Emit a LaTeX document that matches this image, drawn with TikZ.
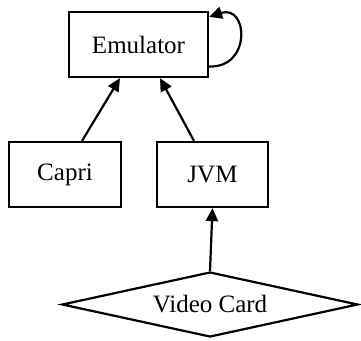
\documentclass[tikz,border=0pt]{standalone}
\usepackage{fontspec}
\setmainfont{Liberation Serif}
\usetikzlibrary{shapes.geometric,arrows.meta}
\begin{document}
\begin{tikzpicture}[x=1pt,y=-1pt,
  every node/.style={font=\fontsize{25}{28}\selectfont, line width=2.2pt, draw, inner sep=0pt},
  box/.style={rectangle, minimum height=65pt},
  choice/.style={diamond, aspect=4.5, minimum width=296pt, minimum height=65pt},
  link/.style={line width=2.2pt, -{Triangle[length=13pt,width=12pt]}}]
  \useasboundingbox (0,0) rectangle (361,340);
  \node[box, minimum width=139pt] (emu) at (138.5,44.5) {Emulator};
  \node[box, minimum width=112pt] (capri) at (65,174.5) {Capri};
  \node[box, minimum width=111pt] (jvm) at (212.5,174.5) {JVM};
  \node[choice] (card) at (210,304.5) {Video Card};
  \draw[link] ([xshift=17pt]capri.north) -- ([xshift=-18.5pt]emu.south);
  \draw[link] ([xshift=-18.5pt]jvm.north) -- ([xshift=21.5pt]emu.south);
  \draw[link] (card.north) -- (jvm.south);
  \coordinate (loopout) at ([yshift=-22pt]emu.east);
  \coordinate (loopin) at ([yshift=-6pt]emu.north east);
  \draw[link] (loopout) .. controls (252,68) and (248,4) .. (loopin);
\end{tikzpicture}
\end{document}
